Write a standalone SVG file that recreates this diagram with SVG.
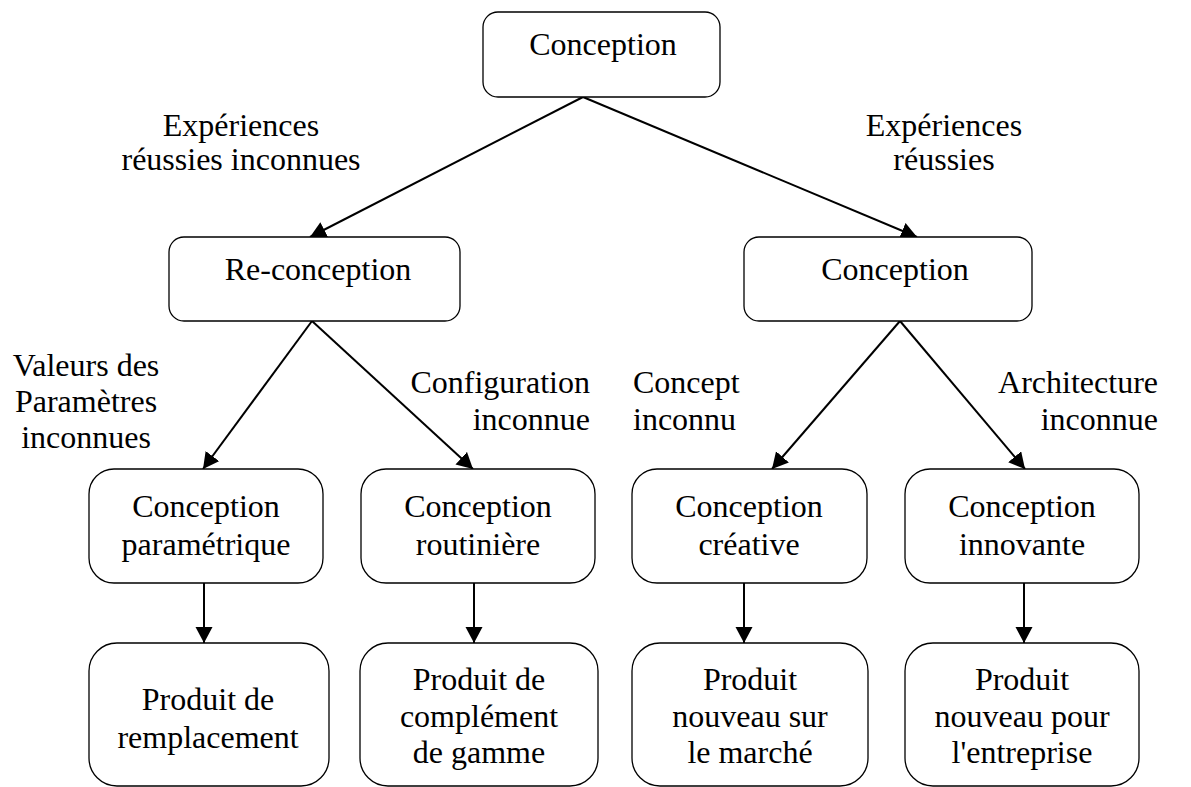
<svg xmlns="http://www.w3.org/2000/svg" width="1191" height="787" viewBox="0 0 1191 787">
<style>
  .box { fill: #ffffff; stroke: #000000; stroke-width: 1.3; }
  .t { font-family: "Liberation Serif", "Times New Roman", serif; font-size: 32px; fill: #000000; text-anchor: middle; }
  .lbl { font-family: "Liberation Serif", "Times New Roman", serif; font-size: 32px; fill: #000000; }
  .edge { stroke: #000000; stroke-width: 2; fill: none; marker-end: url(#arrow); }
</style>
<defs>
  <marker id="arrow" markerUnits="userSpaceOnUse" markerWidth="18" markerHeight="18" refX="16" refY="8.5" orient="auto">
    <path d="M0,0 L16,8.5 L0,17 Z" fill="#000000"/>
  </marker>
</defs>
<rect width="1191" height="787" fill="#ffffff"/>

<g id="connectors">
  <line class="edge" x1="583" y1="97" x2="310" y2="237"/>
  <line class="edge" x1="583" y1="97" x2="917" y2="237"/>
  <line class="edge" x1="312" y1="321" x2="203" y2="469"/>
  <line class="edge" x1="312" y1="321" x2="473" y2="469"/>
  <line class="edge" x1="900" y1="321" x2="772" y2="469"/>
  <line class="edge" x1="900" y1="321" x2="1025" y2="469"/>
  <line class="edge" x1="204" y1="583" x2="204" y2="643"/>
  <line class="edge" x1="474" y1="583" x2="474" y2="643"/>
  <line class="edge" x1="744" y1="583" x2="744" y2="643"/>
  <line class="edge" x1="1024" y1="583" x2="1024" y2="643"/>
</g>

<g id="labels">
  <text class="lbl" text-anchor="middle" x="241" y="136">Expériences</text>
  <text class="lbl" text-anchor="middle" x="241" y="170">réussies inconnues</text>
  <text class="lbl" text-anchor="middle" x="944" y="136">Expériences</text>
  <text class="lbl" text-anchor="middle" x="944" y="170">réussies</text>
  <text class="lbl" text-anchor="middle" x="86" y="376">Valeurs des</text>
  <text class="lbl" text-anchor="middle" x="86" y="412">Paramètres</text>
  <text class="lbl" text-anchor="middle" x="86" y="448">inconnues</text>
  <text class="lbl" text-anchor="end" x="590" y="393">Configuration</text>
  <text class="lbl" text-anchor="end" x="590" y="430">inconnue</text>
  <text class="lbl" text-anchor="start" x="633" y="393">Concept</text>
  <text class="lbl" text-anchor="start" x="633" y="430">inconnu</text>
  <text class="lbl" text-anchor="end" x="1158" y="393">Architecture</text>
  <text class="lbl" text-anchor="end" x="1158" y="430">inconnue</text>
</g>

<g id="n-top">
  <rect class="box" x="483" y="12" width="237" height="85" rx="15"/>
  <text class="t" x="603" y="55">Conception</text>
</g>
<g id="n-reconception">
  <rect class="box" x="169" y="237" width="291" height="84" rx="15"/>
  <text class="t" x="318" y="280">Re-conception</text>
</g>
<g id="n-conception">
  <rect class="box" x="744" y="237" width="288" height="84" rx="15"/>
  <text class="t" x="895" y="280">Conception</text>
</g>

<g id="n-parametrique">
  <rect class="box" x="89" y="469" width="234" height="114" rx="25"/>
  <text class="t" x="206" y="517">Conception</text>
  <text class="t" x="206" y="555">paramétrique</text>
</g>
<g id="n-routiniere">
  <rect class="box" x="361" y="469" width="234" height="114" rx="25"/>
  <text class="t" x="478" y="517">Conception</text>
  <text class="t" x="478" y="555">routinière</text>
</g>
<g id="n-creative">
  <rect class="box" x="632" y="469" width="235" height="114" rx="25"/>
  <text class="t" x="749" y="517">Conception</text>
  <text class="t" x="749" y="555">créative</text>
</g>
<g id="n-innovante">
  <rect class="box" x="905" y="469" width="234" height="114" rx="25"/>
  <text class="t" x="1022" y="517">Conception</text>
  <text class="t" x="1022" y="555">innovante</text>
</g>

<g id="p-remplacement">
  <rect class="box" x="89" y="643" width="240" height="143" rx="28"/>
  <text class="t" x="208" y="710">Produit de</text>
  <text class="t" x="208" y="748">remplacement</text>
</g>
<g id="p-complement">
  <rect class="box" x="360" y="643" width="238" height="143" rx="28"/>
  <text class="t" x="479" y="690">Produit de</text>
  <text class="t" x="479" y="727">complément</text>
  <text class="t" x="479" y="763">de gamme</text>
</g>
<g id="p-marche">
  <rect class="box" x="632" y="643" width="236" height="143" rx="28"/>
  <text class="t" x="750" y="690">Produit</text>
  <text class="t" x="750" y="727">nouveau sur</text>
  <text class="t" x="750" y="763">le marché</text>
</g>
<g id="p-entreprise">
  <rect class="box" x="905" y="643" width="234" height="143" rx="28"/>
  <text class="t" x="1022" y="690">Produit</text>
  <text class="t" x="1022" y="727">nouveau pour</text>
  <text class="t" x="1022" y="763">l'entreprise</text>
</g>
</svg>
